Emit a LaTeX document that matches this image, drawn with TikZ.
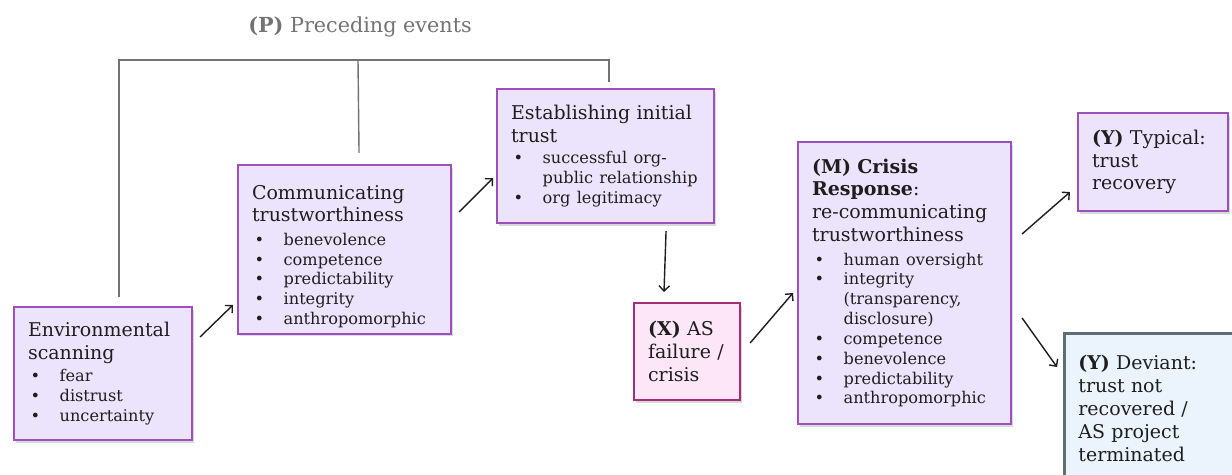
\documentclass[tikz,border=0pt]{standalone}
\usepackage{fontspec}
\setmainfont{DejaVu Serif}
\usetikzlibrary{arrows.meta,shadows}
\definecolor{boxline}{RGB}{155,80,190}
\definecolor{boxfill}{RGB}{236,228,252}
\definecolor{xline}{RGB}{165,45,120}
\definecolor{xfill}{RGB}{252,230,247}
\definecolor{devline}{RGB}{95,110,115}
\definecolor{devfill}{RGB}{235,244,253}
\definecolor{treegray}{RGB}{115,115,115}
\definecolor{ink}{RGB}{30,30,30}
\newcommand{\mainsz}{\fontsize{10.8}{13}\selectfont}
\newcommand{\itemsz}{\fontsize{9.2}{11.3}\selectfont}
\newcommand{\bul}[1]{\hspace*{1.5pt}\makebox[16.5pt][l]{\textbullet}#1}
\newcommand{\cont}[1]{\hspace*{18pt}#1}
\begin{document}
\begin{tikzpicture}[x=0.02cm, y=-0.02cm, >={Straight Barb[length=3pt,width=6pt]},
    box/.style={draw=boxline, fill=boxfill, line width=1.2pt, anchor=north west,
      align=left, inner xsep=0.28cm, font=\mainsz, text=ink,
      execute at begin node={\hyphenpenalty=10000\exhyphenpenalty=10000},
      drop shadow={shadow xshift=1pt, shadow yshift=-1.5pt, opacity=0.3}},
    arr/.style={->, line width=0.8pt, draw=ink},
    tree/.style={line width=0.8pt, draw=treegray}]
    \clip (0,0) rectangle (1232,475);
    % Preceding events
    \node[font=\fontsize{11.8}{14}\selectfont, text=treegray] (pe) at (360,27) {\textbf{(P)} Preceding events};
    % Stages of trust building
    \node[box, minimum width=3.56cm, minimum height=2.66cm, text width=3.00cm] (env) at (13,306)
      {Environmental\\scanning\\[1pt]\itemsz\bul{fear}\\\bul{distrust}\\\bul{uncertainty}\par};
    \node[box, minimum width=4.26cm, minimum height=3.32cm, text width=3.70cm] (comm) at (237,164)
      {\rule{0pt}{16pt}Communicating\\trustworthiness\\[2pt]\itemsz\bul{benevolence}\\\bul{competence}\\\bul{predictability}\\\bul{integrity}\\\bul{anthropomorphic}\par};
    \node[box, minimum width=4.34cm, minimum height=2.68cm, text width=3.78cm] (estab) at (496,88)
      {Establishing~initial\\trust\\[1pt]\itemsz\bul{successful~org-}\\\cont{public~relationship}\\\bul{org~legitimacy}\par};
    % Crisis and response
    \node[box, draw=xline, fill=xfill, minimum width=2.12cm, minimum height=1.94cm, text width=1.56cm] (fail) at (633,302)
      {\textbf{(X)}~AS\\failure~/\\crisis};
    \node[box, minimum width=4.26cm, minimum height=5.64cm, text width=3.70cm] (resp) at (797,141)
      {\textbf{(M)~Crisis}\\\textbf{Response}:\\re-communicating\\trustworthiness\\[2pt]\itemsz\bul{human~oversight}\\\bul{integrity}\\\cont{(transparency,}\\\cont{disclosure)}\\\bul{competence}\\\bul{benevolence}\\\bul{predictability}\\\bul{anthropomorphic}\par};
    % Outcomes
    \node[box, minimum width=3.00cm, minimum height=1.96cm, text width=2.44cm] (typ) at (1077,112)
      {\textbf{(Y)}~Typical:\\trust\\recovery};
    \node[box, draw=devline, fill=devfill, line width=1.6pt, minimum width=3.70cm, minimum height=3.00cm, text width=3.14cm] (dev) at (1063,332)
      {\textbf{(Y)}~Deviant:\\trust~not\\recovered~/\\AS~project\\terminated};
    % Bracket from the preceding events
    \coordinate (bar) at (358,60);
    \draw[tree] ([shift={(16,-9)}]env.north) |- (bar) -| ([shift={(3.5,-6)}]estab.north);
    \draw[tree] (bar) -- ([shift={(14.5,-11)}]comm.north);
    % Arrows
    \draw[arr] ([shift={(7,31)}]env.north east) -- ([shift={(-4,-30)}]comm.south west);
    \draw[arr] ([shift={(7,48)}]comm.north east) -- ([shift={(-3,-46)}]estab.south west);
    \draw[arr] ([shift={(-49,7)}]estab.south east) -- ([shift={(31,-10)}]fail.north west);
    \draw[arr] ([shift={(9,-8.5)}]fail.east) -- ([shift={(-4,152)}]resp.north west);
    \draw[arr] ([shift={(10,93)}]resp.north east) -- ([shift={(-7,-20)}]typ.south west);
    \draw[arr] ([shift={(10,177)}]resp.north east) -- ([shift={(-6,35)}]dev.north west);
\end{tikzpicture}
\end{document}
